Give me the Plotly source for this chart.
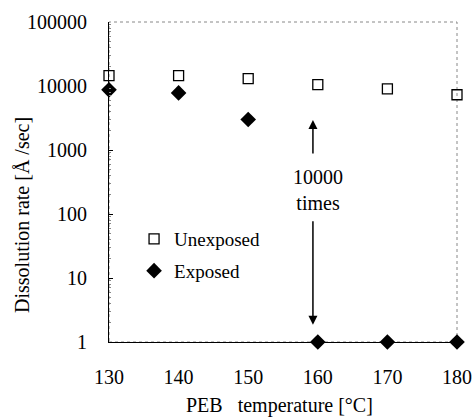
import plotly.graph_objects as go

temps = [130, 140, 150, 160, 170, 180]
unexposed = [14500, 14500, 13000, 10500, 9000, 7300]
exposed = [8700, 7800, 3000, 1, 1, 1]
y_ticks = [1, 10, 100, 1000, 10000, 100000]
y_tick_labels = ["1", "10", "100", "1000", "10000", "100000"]
x_ticks = [130, 140, 150, 160, 170, 180]

FONT = "Liberation Serif"
BLK = "black"

fig = go.Figure()
fig.add_trace(go.Scatter(
    x=temps, y=unexposed, mode="markers", name="Unexposed", legendgroup="a",
    marker=dict(symbol="square-open", size=10, color=BLK, line=dict(width=1.3, color=BLK)),
    cliponaxis=False))
fig.add_trace(go.Scatter(
    x=temps, y=exposed, mode="markers", name="Exposed", legendgroup="b",
    marker=dict(symbol="diamond", size=12, color=BLK),
    cliponaxis=False))

# annotation arrows at 160
fig.add_annotation(x=159.3, y=3.47, xref="x", yref="y", ayref="y", axref="x",
                   ax=159.3, ay=2.92, showarrow=True, arrowhead=2, arrowsize=1.2,
                   arrowwidth=1.5, arrowcolor=BLK, text="")
fig.add_annotation(x=159.3, y=0.27, xref="x", yref="y", ayref="y", axref="x",
                   ax=159.3, ay=1.91, showarrow=True, arrowhead=2, arrowsize=1.2,
                   arrowwidth=1.5, arrowcolor=BLK, text="")
fig.add_annotation(x=160.0, y=2.38, xref="x", yref="y", showarrow=False,
                   text="10000<br>times", font=dict(family=FONT, size=20, color=BLK))

# axis titles as annotations
fig.add_annotation(x=-0.25, y=0.397, xref="paper", yref="paper", showarrow=False,
                   textangle=-90, xanchor="center", yanchor="middle",
                   text="Dissolution rate [Å /sec]", font=dict(family=FONT, size=20, color=BLK))
fig.add_annotation(x=0.489, y=-0.197, xref="paper", yref="paper", showarrow=False,
                   xanchor="center", yanchor="middle",
                   text="PEB   temperature [°C]", font=dict(family=FONT, size=20, color=BLK))

fig.update_layout(
    width=474, height=419,
    margin=dict(l=109, r=17, t=22, b=77),
    paper_bgcolor="white", plot_bgcolor="white",
    font=dict(family=FONT, size=20, color=BLK),
    showlegend=True,
    legend=dict(x=0.072, y=0.381, xanchor="left", yanchor="top",
                bgcolor="rgba(0,0,0,0)", font=dict(family=FONT, size=19, color=BLK),
                itemsizing="trace", traceorder="grouped", tracegroupgap=4, itemwidth=30),
    xaxis=dict(range=[130, 180], tickvals=x_ticks, ticks="", showgrid=False,
               zeroline=False, showline=True, linecolor=BLK, linewidth=1, automargin=False,
               mirror=False, tickfont=dict(family=FONT, size=20, color=BLK), ticklabelstandoff=17),
    yaxis=dict(type="log", range=[0, 5], tickvals=y_ticks, ticktext=y_tick_labels,
               ticks="inside", ticklen=4, tickcolor=BLK, showgrid=False, automargin=False,
               zeroline=False, showline=True, linecolor=BLK, linewidth=1,
               tickfont=dict(family=FONT, size=20, color=BLK), ticklabelstandoff=17,
               minor=dict(ticks="inside", ticklen=2, tickcolor="#888", dtick="D1")),
)
# gray frame top/right
fig.add_shape(type="rect", xref="paper", yref="paper", x0=0, y0=0, x1=1, y1=1,
              line=dict(color="#888", width=1, dash="dot"), layer="below")

fig.write_html("out.html")
